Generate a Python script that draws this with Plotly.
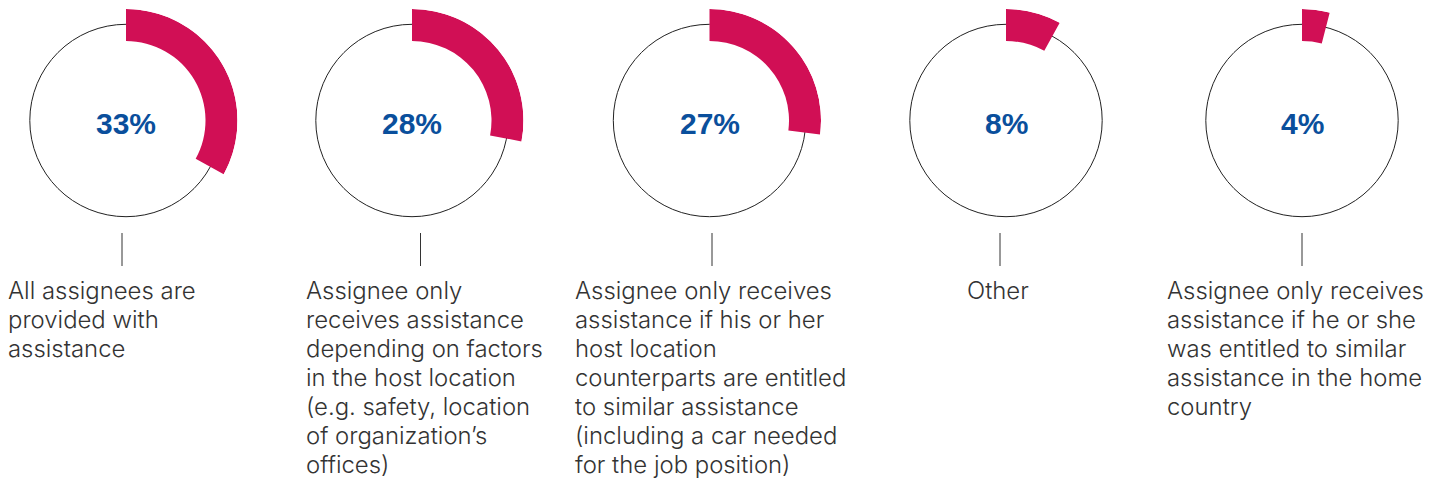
import plotly.graph_objects as go

# ---- data ----
values = [33, 28, 27, 8, 4]
pct_labels = ["33%", "28%", "27%", "8%", "4%"]
categories = [
    "All assignees are<br>provided with<br>assistance",
    "Assignee only<br>receives assistance<br>depending on factors<br>in the host location<br>(e.g. safety, location<br>of organization\u2019s<br>offices)",
    "Assignee only receives<br>assistance if his or her<br>host location<br>counterparts are entitled<br>to similar assistance<br>(including a car needed<br>for the job position)",
    "Other",
    "Assignee only receives<br>assistance if he or she<br>was entitled to similar<br>assistance in the home<br>country",
]

# ---- layout constants (screen pixels; page has an 8px body margin) ----
W, H = 1445, 482
OFF = 8
centers_x = [126, 412, 709.5, 1006, 1302]
center_y = 120.5
R_OUT = 111.5
R_IN = 79.5
R_RING = 96.2
line_x = [122, 420.5, 712, 1000, 1302]
label_x = [8, 306, 575, 967, 1167]
LABEL_SIZE = 23.9
first_baseline = 299.5
line_step = 29
MAGENTA = "#D10F55"
BLUE = "#0A4F9C"
TEXT = "#333333"


def px(x):
    return (x - OFF) / W


def py(y):
    return 1 - (y - OFF) / H


fig = go.Figure()
layout_extra = {}
annotations = []
shapes = []

first_center = first_baseline - 0.3635 * LABEL_SIZE

for i, (v, cx) in enumerate(zip(values, centers_x)):
    pid = "polar" if i == 0 else f"polar{i+1}"
    fig.add_trace(go.Barpolar(
        r=[R_OUT - R_IN], base=[R_IN],
        theta=[v * 3.6 / 2], width=[v * 3.6],
        marker=dict(color=MAGENTA, line=dict(width=0)),
        subplot=pid, showlegend=False, hoverinfo="skip",
    ))
    layout_extra[pid] = dict(
        domain=dict(x=[px(cx - R_OUT), px(cx + R_OUT)],
                    y=[py(center_y + R_OUT), py(center_y - R_OUT)]),
        bgcolor="rgba(0,0,0,0)",
        radialaxis=dict(range=[0, R_OUT], visible=True, showticklabels=False, ticks="",
                        showline=False, tickvals=[R_RING], showgrid=True,
                        gridcolor="#222222", gridwidth=1.2),
        angularaxis=dict(rotation=90, direction="clockwise", showgrid=False,
                         showline=False, showticklabels=False, ticks=""),
    )
    annotations.append(dict(
        x=px(cx), y=py(center_y + 3), xref="paper", yref="paper",
        text=f"<b>{pct_labels[i]}</b>", showarrow=False, xanchor="center", yanchor="middle",
        font=dict(family="Liberation Sans, Arial, sans-serif", size=30, color=BLUE),
    ))
    for k, line in enumerate(categories[i].split("<br>")):
        annotations.append(dict(
            x=px(label_x[i]), y=py(first_center + k * line_step), xref="paper", yref="paper",
            text=line, showarrow=False, xanchor="left", yanchor="middle", align="left",
            borderpad=0, borderwidth=0,
            font=dict(family="Inter, sans-serif", size=LABEL_SIZE, color=TEXT, weight=300),
        ))
    shapes.append(dict(type="line", xref="paper", yref="paper",
                       x0=px(line_x[i]), x1=px(line_x[i]),
                       y0=py(233), y1=py(266),
                       line=dict(color=TEXT, width=1)))

fig.update_layout(
    width=W, height=H,
    margin=dict(l=0, r=0, t=0, b=0),
    paper_bgcolor="white", plot_bgcolor="white",
    annotations=annotations, shapes=shapes,
    **layout_extra,
)

fig.write_html("out.html")
